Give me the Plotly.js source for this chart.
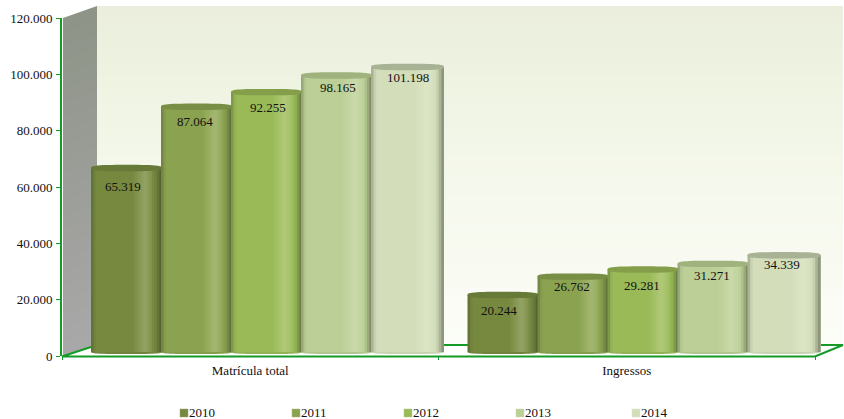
<!DOCTYPE html>
<html>
<head>
<meta charset="utf-8">
<script src="https://cdn.plot.ly/plotly-3.0.1.min.js"></script>
<style>html,body{margin:0;padding:0;background:#fff}#c{width:844px;height:419px}</style>
</head>
<body>
<div id="c"></div>
<script>
var categories = ["Matrícula total", "Ingressos"];
var years = ["2010", "2011", "2012", "2013", "2014"];
var v2010 = [65319, 20244];
var v2011 = [87064, 26762];
var v2012 = [92255, 29281];
var v2013 = [98165, 31271];
var v2014 = [101198, 34339];
var seriesValues = [v2010, v2011, v2012, v2013, v2014];
var tickVals = [0, 20000, 40000, 60000, 80000, 100000, 120000];

// style tables
var bodyColors = [[118,137,63],[139,163,80],[154,186,88],[187,207,151],[211,221,186]];
var capColors  = [[104,122,56],[120,142,68],[132,158,74],[160,178,125],[168,178,148]];
var labelShiftX = [[-4,-2,1,1,1],[-4,-1,-1,-1,-1]];
var labelShiftY = [[-18,-15,-15,-12,-11],[-16,-10,-16,-12,-9]];
var widthsPx = [71, 71, 71, 71, 73];
var shade = [[0,-0.36],[0.03,-0.15],[0.07,0],[0.58,0],[0.76,0.22],[0.84,0.1],[0.92,-0.1],[1,-0.5]];

var FONT = "Liberation Serif";
var L = 62, R = 843, T = 18, B = 356, W = 844, H = 419;
var unit = 376.5, pxY = (B - T) / 120000;
var barStart = (91 - (L + unit / 2)) / unit, barStep = 70 / unit;
var lift = 4 / pxY, capR = 3.2 / pxY, footR = 2 / pxY;
var STRIPS = 28;

function px(x) { return (x - L) / (R - L); }
function py(y) { return (B - y) / (B - T); }
function pth(pts) {
  return "M" + pts.map(function (p) { return px(p[0]) + " " + py(p[1]); }).join("L") + "Z";
}
function css(c) { return "rgb(" + c.map(Math.round).join(",") + ")"; }
function mix(a, b, t) { return a.map(function (v, i) { return v + (b[i] - v) * t; }); }
function shaded(c, u) {
  var s = 0;
  for (var i = 0; i < shade.length - 1; i++) {
    if (u >= shade[i][0] && u <= shade[i + 1][0]) {
      var t = (u - shade[i][0]) / (shade[i + 1][0] - shade[i][0]);
      s = shade[i][1] + (shade[i + 1][1] - shade[i][1]) * t;
      break;
    }
  }
  return s < 0 ? mix(c, [40, 45, 30], -s) : mix(c, [255, 255, 235], s);
}
// flattened oval for a cylinder's top, in axis units
function capPath(x0, x1, yc, ry) {
  var cx = (x0 + x1) / 2, rx = (x1 - x0) / 2, out = [], n = 3.2;
  for (var a = 0; a < 48; a++) {
    var th = a / 48 * 2 * Math.PI, c = Math.cos(th), s = Math.sin(th);
    var px_ = cx + rx * Math.sign(c) * Math.pow(Math.abs(c), 2 / n);
    var py_ = yc + ry * Math.sign(s) * Math.pow(Math.abs(s), 2 / n);
    out.push(px_ + "," + py_);
  }
  return "M" + out.join("L") + "Z";
}

var shapes = [], traces = [], annotations = [];
var i, k;

// back wall
var wallStops = [[6,[235,238,220]],[60,[237,242,224]],[180,[245,248,236]],[345,[252,253,248]]];
for (i = 0; i < 34; i++) {
  var y0 = 6 + i * 10, y1 = Math.min(345, y0 + 11), ym = y0 + 5, col = wallStops[3][1];
  for (k = 0; k < 3; k++) if (ym >= wallStops[k][0] && ym <= wallStops[k + 1][0])
    col = mix(wallStops[k][1], wallStops[k + 1][1], (ym - wallStops[k][0]) / (wallStops[k + 1][0] - wallStops[k][0]));
  shapes.push({type: "path", xref: "paper", yref: "paper", layer: "below", path: pth([[97,y0],[843,y0],[843,y1],[97,y1]]), fillcolor: css(col), line: {width: 0}});
}
// side wall
for (i = 0; i < 24; i++) {
  var a = i / 24, b = (i + 1.1) / 24;
  var c = mix([142,148,136],[170,169,170], a);
  shapes.push({type: "path", xref: "paper", yref: "paper", layer: "below",
    path: pth([[63,18 + a * 338],[97,6 + a * 339],[97,6 + Math.min(b,1) * 339],[63,18 + Math.min(b,1) * 338]]),
    fillcolor: css(c), line: {width: 0}});
}
// floor
shapes.push({type: "path", xref: "paper", yref: "paper", layer: "below",
  path: pth([[62,356.5],[97,345],[843,345],[815,356.5]]), fillcolor: "#ffffff",
  line: {color: "#159a26", width: 2}});

// cylinders
years.forEach(function (yr, s) {
  var vals = seriesValues[s];
  var left = barStart + s * barStep;
  var barWidth = widthsPx[s] / unit;
  var baseCol = bodyColors[s];
  vals.forEach(function (v, g) {
    var x0 = g + left, x1 = x0 + barWidth;
    shapes.push({type: "path", xref: "x", yref: "y", layer: "below",
      path: capPath(x0, x1, lift, footR), fillcolor: css(mix(baseCol,[40,45,30],0.06)), line: {width: 0}});
    shapes.push({type: "path", xref: "x", yref: "y", layer: "above",
      path: capPath(x0, x1, v + lift, capR), fillcolor: css(capColors[s]), line: {width: 0}});
    annotations.push({x: g + left + 35.5 / unit, y: v + lift, xref: "x", yref: "y",
      text: String(v).replace(/(\d)(\d{3})$/, "$1.$2"), showarrow: false,
      xshift: labelShiftX[g][s], yshift: labelShiftY[g][s],
      font: {family: FONT, size: 13, color: "#111"}});
  });
  for (i = 0; i < STRIPS; i++) {
    var u = i / STRIPS;
    traces.push({type: "bar", name: yr, x: categories, y: vals, base: [lift, lift],
      offset: left + u * barWidth, width: barWidth * (1 - u),
      marker: {color: css(shaded(baseCol, (i + 0.5) / STRIPS)), line: {width: 0}},
      showlegend: false, hoverinfo: "skip"});
  }
  // legend entry
  var lx = [181, 293, 405, 517, 633][s];
  shapes.push({type: "rect", xref: "paper", yref: "paper", x0: px(lx - 1), x1: px(lx + 7), y0: py(417), y1: py(409),
    fillcolor: css(baseCol), line: {color: css(mix(baseCol,[255,255,255],0.25)), width: 0.5}});
  annotations.push({xref: "paper", yref: "paper", x: px(lx + 6), y: py(412.5), xanchor: "left", yanchor: "middle",
    text: yr, showarrow: false, font: {family: FONT, size: 13, color: "#111"}});
});

Plotly.newPlot("c", traces, {
  width: W, height: H, autosize: false,
  margin: {l: L, r: W - R, t: T, b: H - B, pad: 0},
  paper_bgcolor: "#ffffff", plot_bgcolor: "rgba(0,0,0,0)",
  barmode: "overlay", showlegend: false, separators: ",.",
  font: {family: FONT, size: 13, color: "#111"},
  xaxis: {type: "category", categoryorder: "array", categoryarray: categories,
    range: [-0.5, -0.5 + (R - L) / unit],
    tickson: "boundaries", ticks: "outside", ticklen: 3, tickcolor: "#159a26", tickwidth: 1,
    ticklabelstandoff: 5,
    showline: false, showgrid: false, zeroline: false, automargin: false,
    tickfont: {family: FONT, size: 13, color: "#111"}},
  yaxis: {range: [0, 120000], tickvals: tickVals, tickformat: ",d", ticks: "outside", ticklen: 4,
    tickcolor: "#159a26", tickwidth: 1, showline: true, linecolor: "#159a26", linewidth: 2,
    ticklabelstandoff: 1,
    showgrid: false, zeroline: false, automargin: false,
    tickfont: {family: FONT, size: 13, color: "#111"}},
  shapes: shapes, annotations: annotations
}, {displayModeBar: false, staticPlot: true});
</script>
</body>
</html>
